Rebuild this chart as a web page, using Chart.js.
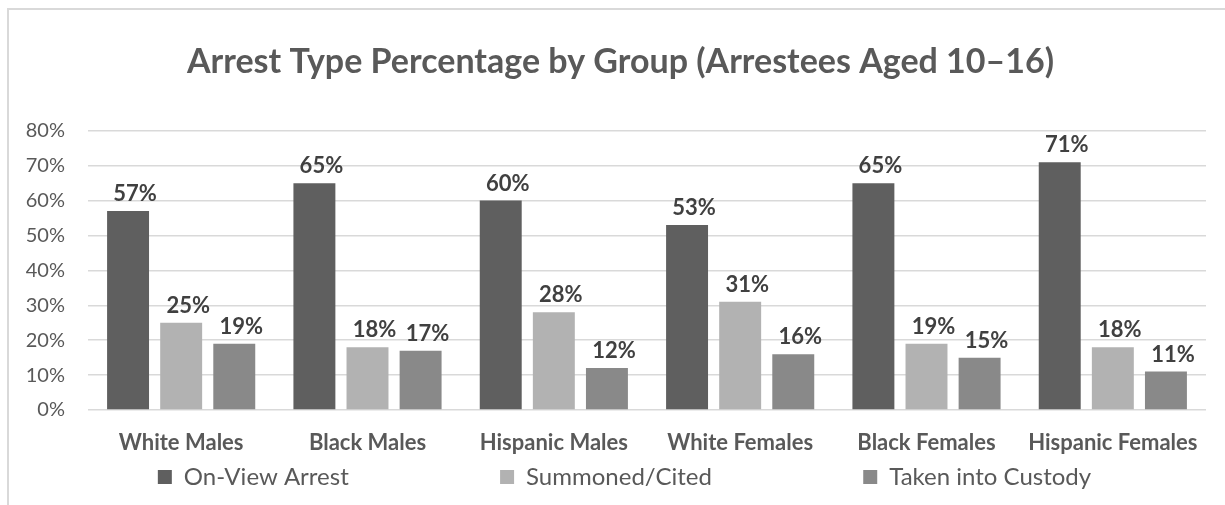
<!DOCTYPE html>
<html>
<head>
<meta charset="utf-8">
<script src="https://cdn.jsdelivr.net/npm/chart.js@4.4.1/dist/chart.umd.min.js"></script>
<style>
  html, body { margin: 0; padding: 0; background: #fff; overflow: hidden; }
  #frame {
    position: absolute; left: 7px; top: 8px; width: 1300px; height: 600px;
    border: 2px solid #d9d9d9; box-sizing: border-box;
  }
  #wrap { position: absolute; left: 0; top: 0; width: 1225px; height: 505px; }
</style>
</head>
<body>
<div id="frame"></div>
<div id="wrap"><canvas id="arrestChart"></canvas></div>
<script>
// Groups along the x axis
var groups = ['White Males', 'Black Males', 'Hispanic Males', 'White Females', 'Black Females', 'Hispanic Females'];

// Percent of arrestees (aged 10-16) by arrest type
var onViewArrest = [57, 65, 60, 53, 65, 71];
var summonedCited = [25, 18, 28, 31, 19, 18];
var takenIntoCustody = [19, 17, 12, 16, 15, 11];

var yTicks = [0, 10, 20, 30, 40, 50, 60, 70, 80];

var FONT = 'Lato, "Open Sans", sans-serif';

// Draws the value above each bar (no datalabels plugin available offline)
var barValueLabels = {
  id: 'barValueLabels',
  afterDatasetsDraw: function(chart) {
    var ctx = chart.ctx;
    ctx.save();
    ctx.font = 'bold 22px ' + FONT;
    ctx.fillStyle = '#404040';
    ctx.textAlign = 'center';
    ctx.textBaseline = 'alphabetic';
    chart.data.datasets.forEach(function(ds, i) {
      chart.getDatasetMeta(i).data.forEach(function(bar, j) {
        ctx.fillText(ds.data[j] + '%', bar.x + 7, bar.y - 10);
      });
    });
    ctx.restore();
  }
};

// Small layout tweaks: move the legend row right a little and let the
// y tick labels draw past the left edge of their box without clipping
var layoutTweaks = {
  id: 'layoutTweaks',
  afterLayout: function(chart) {
    if (chart.legend) chart.legend.left += 8;
    chart.scales.y.left = 0;
  }
};

// Trailing spaces widen the gap between legend entries
var LEGEND_GAP = '                       ';

function createChart(canvasId) {
  var existingChart = Chart.getChart(canvasId);
  if (existingChart) {
    existingChart.destroy();
  }
  var ctx = document.getElementById(canvasId).getContext('2d');
  return new Chart(ctx, {
    type: 'bar',
    data: {
      labels: groups,
      datasets: [
        { label: 'On-View Arrest', data: onViewArrest, backgroundColor: '#5f5f5f' },
        { label: 'Summoned/Cited', data: summonedCited, backgroundColor: '#b2b2b2' },
        { label: 'Taken into Custody', data: takenIntoCustody, backgroundColor: '#898989' }
      ]
    },
    options: {
      responsive: true,
      maintainAspectRatio: false,
      animation: false,
      categoryPercentage: 0.855,
      barPercentage: 0.79,
      layout: { padding: { left: 35, right: 19, top: 0, bottom: 6 } },
      plugins: {
        title: {
          display: true,
          text: 'Arrest Type Percentage by Group (Arrestees Aged 10–16)',
          color: '#595959',
          font: { family: FONT, size: 34, weight: 'bold' },
          padding: { top: 42, bottom: 48 }
        },
        legend: {
          position: 'bottom',
          labels: {
            color: '#595959',
            font: { family: FONT, size: 24 },
            boxWidth: 14,
            boxHeight: 14,
            padding: 10,
            generateLabels: function(chart) {
              var items = Chart.defaults.plugins.legend.labels.generateLabels(chart);
              items.forEach(function(item, i) {
                item.lineWidth = 0;
                if (i < items.length - 1) item.text += LEGEND_GAP;
              });
              return items;
            }
          }
        },
        tooltip: { enabled: false }
      },
      scales: {
        x: {
          afterFit: function(scale) { scale.height = 45; },
          grid: { display: false, drawTicks: false },
          border: { display: false },
          ticks: {
            color: '#595959',
            font: { family: FONT, size: 22, weight: 'bold' },
            padding: 20,
            maxRotation: 0,
            autoSkip: false
          }
        },
        y: {
          min: 0,
          max: 80,
          afterFit: function(scale) { scale.width = 53; },
          afterBuildTicks: function(scale) {
            scale.ticks = yTicks.map(function(v) { return { value: v }; });
          },
          grid: { color: '#d9d9d9', lineWidth: 1.5, drawTicks: false },
          border: { display: false },
          ticks: {
            color: '#595959',
            font: { family: FONT, size: 20 },
            padding: 23,
            callback: function(value) { return value + '%'; }
          }
        }
      }
    },
    plugins: [barValueLabels, layoutTweaks]
  });
}

createChart('arrestChart');
</script>
</body>
</html>
